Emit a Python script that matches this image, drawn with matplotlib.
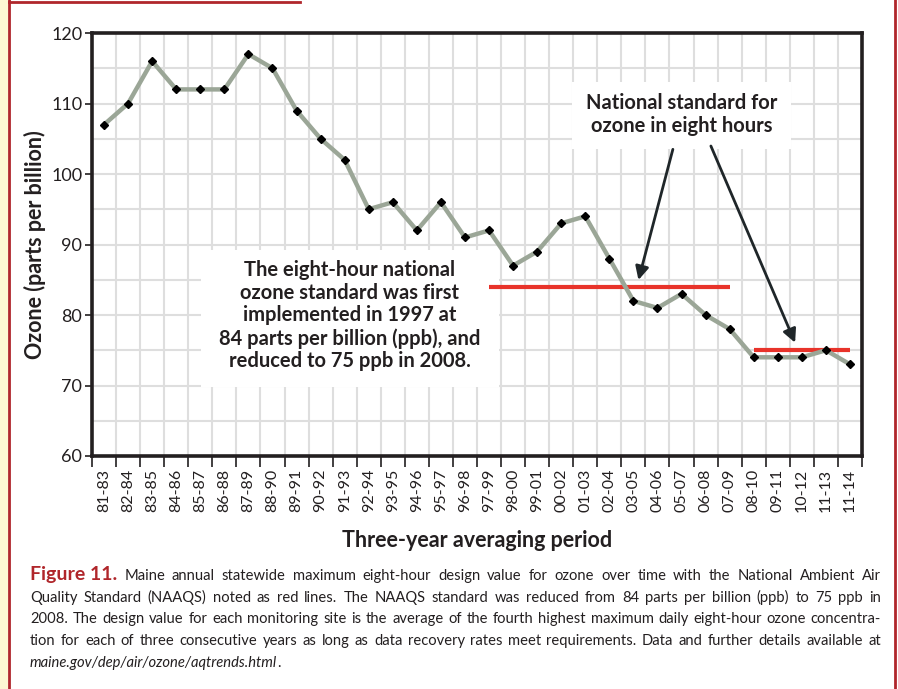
import numpy as np
import matplotlib
matplotlib.use("Agg")
import matplotlib.pyplot as plt
from matplotlib.patches import Rectangle
from matplotlib.lines import Line2D

# data
periods = ["81-83", "82-84", "83-85", "84-86", "85-87", "86-88", "87-89", "88-90",
           "89-91", "90-92", "91-93", "92-94", "93-95", "94-96", "95-97", "96-98",
           "97-99", "98-00", "99-01", "00-02", "01-03", "02-04", "03-05", "04-06",
           "05-07", "06-08", "07-09", "08-10", "09-11", "10-12", "11-13", "11-14"]
ozone = [107, 110, 116, 112, 112, 112, 117, 115, 109, 105, 102, 95, 96, 92, 96, 91,
         92, 87, 89, 93, 94, 88, 82, 81, 83, 80, 78, 74, 74, 74, 75, 73]

std_values = [84, 75]
std_start = ["97-99", "08-10"]
std_end = ["07-09", "11-14"]

y_ticks = [60, 70, 80, 90, 100, 110, 120]

note_left = ("The eight-hour national\nozone standard was first\nimplemented in 1997 at\n"
             "84 parts per billion (ppb), and\nreduced to 75 ppb in 2008.")
note_right = "National standard for\nozone in eight hours"

caption_head = "Figure 11."
caption_lines = [
    "Maine annual statewide maximum eight-hour design value for ozone over time with the National Ambient Air",
    "Quality Standard (NAAQS) noted as red lines. The NAAQS standard was reduced from 84 parts per billion (ppb) to 75 ppb in",
    "2008. The design value for each monitoring site is the average of the fourth highest maximum daily eight-hour ozone concentra-",
    "tion for each of three consecutive years as long as data recovery rates meet requirements. Data and further details available at",
]
caption_link = "maine.gov/dep/air/ozone/aqtrends.html"

plt.rcParams["font.family"] = ["Lato", "DejaVu Sans"]
dark = "#231f20"
red = "#b0262b"

W, H = 898, 689
fig = plt.figure(figsize=(W / 100, H / 100), dpi=100)
ax = fig.add_axes([92 / W, 1 - 456 / H, 770 / W, 423 / H])

x = np.arange(len(periods))

# page frame bits
fig.add_artist(Rectangle((0, 0), 8 / W, 1, transform=fig.transFigure, color="#fdf7d2", lw=0))
fig.add_artist(Line2D([9 / W, 9 / W], [0, 1], transform=fig.transFigure, color=red, lw=2))
fig.add_artist(Line2D([9 / W, 300 / W], [1 - 1.5 / H, 1 - 1.5 / H], transform=fig.transFigure, color=red, lw=2))
fig.add_artist(Line2D([895 / W, 895 / W], [0, 1], transform=fig.transFigure, color=red, lw=2))

# NAAQS lines
for val, s, e in zip(std_values, std_start, std_end):
    ax.hlines(val, periods.index(s), periods.index(e), color="#e8332a", lw=3, zorder=3)

ax.plot(x, ozone, color="#9ba697", lw=3.2, marker="D", ms=4.2, mfc="black", mec="black", zorder=4)

ax.set_xlim(-0.5, len(periods) - 0.5)
ax.set_ylim(60, 120)
ax.set_axisbelow(True)

ax.set_xticks(x)
ax.set_xticklabels(periods, rotation=90, fontsize=11.5, color=dark)
ax.set_xticks(np.arange(-0.5, len(periods), 1), minor=True)
ax.tick_params(axis="x", which="major", length=0, pad=9)
ax.tick_params(axis="x", which="minor", length=8, width=1.2, direction="out", color=dark)

ax.set_yticks(y_ticks)
ax.set_yticklabels([str(v) for v in y_ticks], fontsize=13, color=dark)
ax.set_yticks(np.arange(60, 121, 5), minor=True)
ax.tick_params(axis="y", which="major", length=5, width=1.2, color=dark, pad=2)
ax.tick_params(axis="y", which="minor", length=0)

ax.grid(which="minor", axis="x", color="#dedede", lw=1.5)
ax.grid(which="both", axis="y", color="#dedede", lw=1.5)
ax.grid(which="major", axis="x", visible=False)

for sp in ax.spines.values():
    sp.set_linewidth(2.6)
    sp.set_color(dark)

ax.set_ylabel("Ozone (parts per billion)", fontsize=15.5, fontweight="bold", color=dark, labelpad=4)
ax.set_xlabel("Three-year averaging period", fontsize=15.5, fontweight="bold", color=dark, labelpad=13)

# note boxes
ax.add_patch(Rectangle((4.02, 69.8), 12.4, 19.4, fc="white", ec="none", zorder=1))
ax.text(10.22, 79.9, note_left, ha="center", va="center", fontsize=14.5, fontweight="bold",
        color=dark, linespacing=1.17, zorder=2)
ax.add_patch(Rectangle((19.45, 103.55), 9.1, 9.5, fc="white", ec="none", zorder=1))
ax.text(24.0, 108.4, note_right, ha="center", va="center", fontsize=14.5, fontweight="bold",
        color=dark, linespacing=1.17, zorder=2)

arrow = dict(arrowstyle="-|>", color="#1f2629", lw=2, mutation_scale=20, shrinkA=0, shrinkB=0)
ax.annotate("", xy=(22.21, 84.96), xytext=(23.64, 103.5), arrowprops=arrow, zorder=5)
ax.annotate("", xy=(28.72, 76.07), xytext=(25.22, 103.97), arrowprops=arrow, zorder=5)

# caption, justified word by word
cap_size = 10.6
left_px, right_px = 30, 881
line_gap = 21.7
renderer = fig.canvas.get_renderer()

for i, line in enumerate(caption_lines):
    y = 1 - (580 + i * line_gap) / H
    arts = []
    if i == 0:
        arts.append(fig.text(0, y, caption_head, va="baseline", color=red,
                             fontsize=14, fontweight="bold"))
    for w in line.split():
        arts.append(fig.text(0, y, w, va="baseline", color=dark, fontsize=cap_size))
    widths = [a.get_window_extent(renderer).width for a in arts]
    gap = (right_px - left_px - sum(widths)) / (len(arts) - 1)
    xp = left_px
    for a, w in zip(arts, widths):
        a.set_x(xp / W)
        xp += w + gap

lk = fig.text(left_px / W, 1 - (580 + 4 * line_gap) / H, caption_link, fontsize=cap_size,
              style="italic", color=dark, va="baseline")
ax.annotate(".", xy=(1, 0), xycoords=lk, va="bottom", fontsize=cap_size, color=dark)

fig.savefig("out.png", dpi=100)
